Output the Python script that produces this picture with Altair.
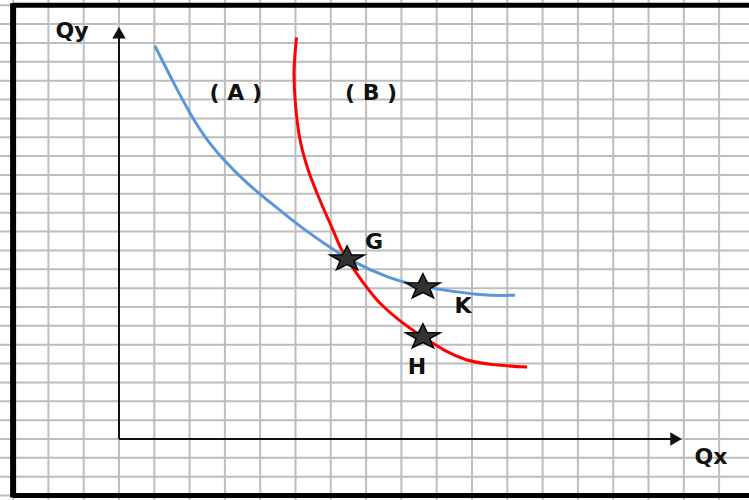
import altair as alt
import pandas as pd

# Indifference curve A (blue) and curve B (red), in grid units
a_x = [1.02, 1.54, 2.01, 2.48, 3.05, 3.62, 4.37, 5.13, 5.88, 6.46, 7.68, 8.61, 10.23, 11.22]
a_y = [20.84, 18.9, 17.25, 15.85, 14.62, 13.56, 12.41, 11.26, 10.29, 9.54, 8.48, 8.06, 7.6, 7.62]
b_x = [5.03, 4.96, 4.99, 5.13, 5.36, 5.69, 6.02, 6.31, 6.46, 7.39, 8.61, 9.86, 11.56]
b_y = [21.3, 19.57, 17.97, 15.85, 14.26, 12.67, 11.26, 10.02, 9.54, 7.21, 5.41, 4.19, 3.82]

# Marked bundles
pt_names = ["G", "K", "H"]
pt_x = [6.46, 8.61, 8.61]
pt_y = [9.54, 8.06, 5.41]

# Curve captions and axis names
cap_text = ["( A )", "( B )", "Qy", "Qx"]
cap_x = [3.31, 7.14, -1.33, 16.77]
cap_y = [18.35, 18.35, 21.63, -0.95]

# Graph-paper lines
grid_x = list(range(-3, 18))
grid_y = list(range(-3, 24))

W, H = 749, 500
XMIN, XMAX = -3.371, 17.847
YMIN, YMAX = -3.234, 23.277
xs = alt.Scale(domain=[XMIN, XMAX], nice=False, zero=False)
ys = alt.Scale(domain=[YMIN, YMAX], nice=False, zero=False)

# Five-pointed star, a little wider than tall
STAR = ("M0,-1L0.33,-0.33L1.3,-0.31L0.52,0.13L0.8,0.81L0,0.42"
        "L-0.8,0.81L-0.52,0.13L-1.3,-0.31L-0.33,-0.33Z")


def X(f="x"):
    return alt.X(f"{f}:Q", scale=xs, axis=None)


def Y(f="y"):
    return alt.Y(f"{f}:Q", scale=ys, axis=None)


curve_a = pd.DataFrame({"x": a_x, "y": a_y, "i": range(len(a_x))})
curve_b = pd.DataFrame({"x": b_x, "y": b_y, "i": range(len(b_x))})
pts = pd.DataFrame({"name": pt_names, "x": pt_x, "y": pt_y})
caps = pd.DataFrame({"t": cap_text, "x": cap_x, "y": cap_y})

gv = alt.Chart(pd.DataFrame({"x": grid_x})).mark_rule(color="#bdbdbd", strokeWidth=2).encode(
    x=X(), y=alt.value(0), y2=alt.value(H))
gh = alt.Chart(pd.DataFrame({"y": grid_y})).mark_rule(color="#bdbdbd", strokeWidth=2).encode(
    y=Y(), x=alt.value(0), x2=alt.value(W))

# Heavy frame: top, left and bottom edges
fh = alt.Chart(pd.DataFrame({"x": [-3, -3], "x2": [XMAX, XMAX], "y": [23, -3]})).mark_rule(
    color="black", strokeWidth=5).encode(x=X(), x2="x2", y=Y())
fv = alt.Chart(pd.DataFrame({"x": [-3], "y": [-3.1], "y2": [23.1]})).mark_rule(
    color="black", strokeWidth=6).encode(x=X(), y=Y(), y2="y2")

# Axes with arrowheads
ax_y = alt.Chart(pd.DataFrame({"x": [0], "y": [0], "y2": [21.5]})).mark_rule(
    color="#111", strokeWidth=2).encode(x=X(), y=Y(), y2="y2")
ax_x = alt.Chart(pd.DataFrame({"x": [0], "x2": [15.75], "y": [0]})).mark_rule(
    color="#111", strokeWidth=2).encode(x=X(), x2="x2", y=Y())
arr_up = alt.Chart(pd.DataFrame({"x": [0], "y": [21.55]})).mark_point(
    shape="triangle-up", filled=True, color="#111", size=180, opacity=1).encode(x=X(), y=Y())
arr_rt = alt.Chart(pd.DataFrame({"x": [15.78], "y": [0]})).mark_point(
    shape="triangle-right", filled=True, color="#111", size=180, opacity=1).encode(x=X(), y=Y())

line_a = alt.Chart(curve_a).mark_line(
    strokeWidth=3, interpolate="basis", color="#5a96dc").encode(x=X(), y=Y(), order="i:Q")
line_b = alt.Chart(curve_b).mark_line(
    strokeWidth=3, interpolate="catmull-rom", color="#ff0000").encode(x=X(), y=Y(), order="i:Q")

stars = alt.Chart(pts).mark_point(shape=STAR, filled=True, size=700, fill="#333333",
                                  stroke="#000", strokeWidth=1.5, opacity=1).encode(x=X(), y=Y())

txt_style = dict(font="DejaVu Sans", fontWeight="bold", fontSize=22, color="#111")


def point_label(name, dx, dy):
    return alt.Chart(pts[pts["name"] == name]).mark_text(dx=dx, dy=dy, **txt_style).encode(
        x=X(), y=Y(), text="name:N")


labels = point_label("G", 27, -17) + point_label("K", 40, 19) + point_label("H", -6, 30)

captions = alt.Chart(caps).mark_text(**txt_style).encode(x=X(), y=Y(), text="t:N")

chart = alt.layer(
    gv, gh, fh, fv, ax_y, ax_x, arr_up, arr_rt, line_a, line_b, stars, labels, captions
).properties(
    width=W, height=H, padding=0, autosize=alt.AutoSizeParams(type="none"),
    background="white",
).configure_view(stroke=None)

chart.save("out.html", embed_options={"renderer": "svg", "actions": False})
